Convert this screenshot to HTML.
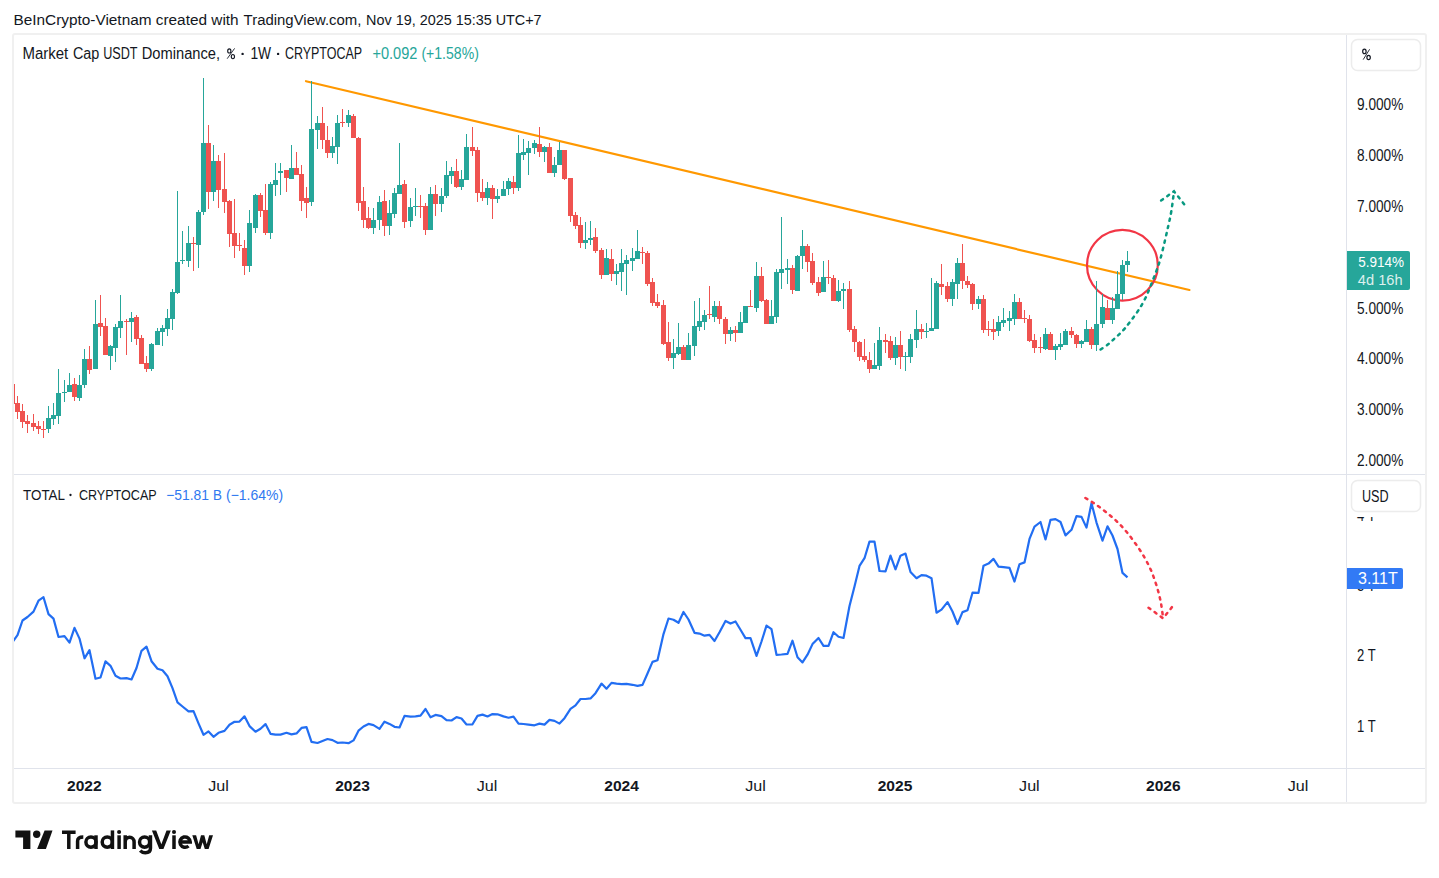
<!DOCTYPE html>
<html><head><meta charset="utf-8"><title>TradingView chart</title>
<style>html,body{margin:0;padding:0;background:#fff;width:1439px;height:878px;overflow:hidden;font-family:"Liberation Sans",sans-serif}svg{display:block}</style>
</head><body>
<svg width="1439" height="878" viewBox="0 0 1439 878" font-family="Liberation Sans, sans-serif"><text x="13.5" y="25" font-size="15.2" fill="#131722" textLength="225.1" lengthAdjust="spacingAndGlyphs">BeInCrypto-Vietnam created with</text>
<text x="243.6" y="25" font-size="15.2" fill="#131722" textLength="117.8" lengthAdjust="spacingAndGlyphs">TradingView.com,</text>
<text x="366.1" y="25" font-size="15.2" fill="#131722" textLength="175.5" lengthAdjust="spacingAndGlyphs">Nov 19, 2025 15:35 UTC+7</text>
<rect x="12" y="34" width="1414" height="768" fill="#fff" stroke="none"/>
<defs><clipPath id="cp1"><rect x="13" y="35" width="1333" height="439"/></clipPath><clipPath id="cp2"><rect x="13" y="475" width="1333" height="293"/></clipPath></defs>
<line x1="306.0" y1="81.2" x2="1189.4" y2="290.0" stroke="#ff9800" stroke-width="2.2" stroke-linecap="round"/>
<circle cx="1122.4" cy="265.3" r="35.4" fill="none" stroke="#f23645" stroke-width="2.2"/>
<g clip-path="url(#cp1)" shape-rendering="crispEdges">
<rect x="12" y="384" width="1" height="20" fill="#ef5350"/>
<rect x="10" y="384" width="5" height="20" fill="#ef5350"/>
<rect x="17" y="396" width="1" height="23" fill="#ef5350"/>
<rect x="15" y="403" width="5" height="9" fill="#ef5350"/>
<rect x="22" y="404" width="1" height="24" fill="#ef5350"/>
<rect x="20" y="411" width="5" height="11" fill="#ef5350"/>
<rect x="27" y="415" width="1" height="18" fill="#ef5350"/>
<rect x="25" y="421" width="5" height="3" fill="#ef5350"/>
<rect x="33" y="414" width="1" height="17" fill="#ef5350"/>
<rect x="31" y="423" width="5" height="4" fill="#ef5350"/>
<rect x="38" y="421" width="1" height="13" fill="#ef5350"/>
<rect x="36" y="426" width="5" height="3" fill="#ef5350"/>
<rect x="43" y="421" width="1" height="17" fill="#ef5350"/>
<rect x="41" y="429" width="5" height="1" fill="#ef5350"/>
<rect x="48" y="406" width="1" height="27" fill="#26a69a"/>
<rect x="46" y="418" width="5" height="11" fill="#26a69a"/>
<rect x="53" y="403" width="1" height="22" fill="#26a69a"/>
<rect x="51" y="415" width="5" height="4" fill="#26a69a"/>
<rect x="58" y="369" width="1" height="55" fill="#26a69a"/>
<rect x="56" y="393" width="5" height="23" fill="#26a69a"/>
<rect x="64" y="380" width="1" height="22" fill="#26a69a"/>
<rect x="62" y="392" width="5" height="1" fill="#26a69a"/>
<rect x="69" y="373" width="1" height="19" fill="#26a69a"/>
<rect x="67" y="385" width="5" height="7" fill="#26a69a"/>
<rect x="74" y="378" width="1" height="23" fill="#ef5350"/>
<rect x="72" y="384" width="5" height="13" fill="#ef5350"/>
<rect x="79" y="375" width="1" height="26" fill="#26a69a"/>
<rect x="77" y="385" width="5" height="13" fill="#26a69a"/>
<rect x="84" y="349" width="1" height="39" fill="#26a69a"/>
<rect x="82" y="359" width="5" height="26" fill="#26a69a"/>
<rect x="89" y="346" width="1" height="28" fill="#ef5350"/>
<rect x="87" y="359" width="5" height="11" fill="#ef5350"/>
<rect x="95" y="300" width="1" height="69" fill="#26a69a"/>
<rect x="93" y="324" width="5" height="45" fill="#26a69a"/>
<rect x="100" y="295" width="1" height="41" fill="#ef5350"/>
<rect x="98" y="323" width="5" height="4" fill="#ef5350"/>
<rect x="105" y="318" width="1" height="37" fill="#ef5350"/>
<rect x="103" y="326" width="5" height="29" fill="#ef5350"/>
<rect x="110" y="345" width="1" height="25" fill="#26a69a"/>
<rect x="108" y="346" width="5" height="10" fill="#26a69a"/>
<rect x="115" y="324" width="1" height="38" fill="#26a69a"/>
<rect x="113" y="327" width="5" height="21" fill="#26a69a"/>
<rect x="120" y="295" width="1" height="43" fill="#26a69a"/>
<rect x="118" y="321" width="5" height="7" fill="#26a69a"/>
<rect x="126" y="319" width="1" height="36" fill="#ef5350"/>
<rect x="124" y="321" width="5" height="1" fill="#ef5350"/>
<rect x="131" y="312" width="1" height="30" fill="#26a69a"/>
<rect x="129" y="318" width="5" height="4" fill="#26a69a"/>
<rect x="136" y="315" width="1" height="30" fill="#ef5350"/>
<rect x="134" y="317" width="5" height="22" fill="#ef5350"/>
<rect x="141" y="335" width="1" height="29" fill="#ef5350"/>
<rect x="139" y="338" width="5" height="26" fill="#ef5350"/>
<rect x="146" y="356" width="1" height="16" fill="#ef5350"/>
<rect x="144" y="363" width="5" height="6" fill="#ef5350"/>
<rect x="151" y="343" width="1" height="28" fill="#26a69a"/>
<rect x="149" y="344" width="5" height="25" fill="#26a69a"/>
<rect x="157" y="328" width="1" height="17" fill="#26a69a"/>
<rect x="155" y="331" width="5" height="14" fill="#26a69a"/>
<rect x="162" y="325" width="1" height="21" fill="#26a69a"/>
<rect x="160" y="328" width="5" height="4" fill="#26a69a"/>
<rect x="167" y="309" width="1" height="27" fill="#26a69a"/>
<rect x="165" y="318" width="5" height="11" fill="#26a69a"/>
<rect x="172" y="289" width="1" height="41" fill="#26a69a"/>
<rect x="170" y="292" width="5" height="27" fill="#26a69a"/>
<rect x="177" y="191" width="1" height="103" fill="#26a69a"/>
<rect x="175" y="262" width="5" height="31" fill="#26a69a"/>
<rect x="182" y="231" width="1" height="33" fill="#26a69a"/>
<rect x="180" y="260" width="5" height="1" fill="#26a69a"/>
<rect x="188" y="226" width="1" height="41" fill="#26a69a"/>
<rect x="186" y="243" width="5" height="18" fill="#26a69a"/>
<rect x="193" y="237" width="1" height="34" fill="#ef5350"/>
<rect x="191" y="243" width="5" height="1" fill="#ef5350"/>
<rect x="198" y="210" width="1" height="58" fill="#26a69a"/>
<rect x="196" y="212" width="5" height="33" fill="#26a69a"/>
<rect x="203" y="78" width="1" height="137" fill="#26a69a"/>
<rect x="201" y="143" width="5" height="69" fill="#26a69a"/>
<rect x="208" y="125" width="1" height="84" fill="#ef5350"/>
<rect x="206" y="143" width="5" height="49" fill="#ef5350"/>
<rect x="213" y="145" width="1" height="56" fill="#26a69a"/>
<rect x="211" y="161" width="5" height="31" fill="#26a69a"/>
<rect x="218" y="155" width="1" height="53" fill="#ef5350"/>
<rect x="216" y="161" width="5" height="29" fill="#ef5350"/>
<rect x="224" y="153" width="1" height="60" fill="#ef5350"/>
<rect x="222" y="189" width="5" height="13" fill="#ef5350"/>
<rect x="229" y="200" width="1" height="47" fill="#ef5350"/>
<rect x="227" y="201" width="5" height="33" fill="#ef5350"/>
<rect x="234" y="199" width="1" height="59" fill="#ef5350"/>
<rect x="232" y="233" width="5" height="13" fill="#ef5350"/>
<rect x="239" y="233" width="1" height="18" fill="#ef5350"/>
<rect x="237" y="245" width="5" height="1" fill="#ef5350"/>
<rect x="244" y="240" width="1" height="35" fill="#ef5350"/>
<rect x="242" y="248" width="5" height="18" fill="#ef5350"/>
<rect x="249" y="210" width="1" height="62" fill="#26a69a"/>
<rect x="247" y="223" width="5" height="43" fill="#26a69a"/>
<rect x="255" y="194" width="1" height="39" fill="#26a69a"/>
<rect x="253" y="195" width="5" height="33" fill="#26a69a"/>
<rect x="260" y="193" width="1" height="24" fill="#ef5350"/>
<rect x="258" y="195" width="5" height="16" fill="#ef5350"/>
<rect x="265" y="184" width="1" height="51" fill="#ef5350"/>
<rect x="263" y="210" width="5" height="23" fill="#ef5350"/>
<rect x="270" y="182" width="1" height="57" fill="#26a69a"/>
<rect x="268" y="184" width="5" height="49" fill="#26a69a"/>
<rect x="275" y="163" width="1" height="33" fill="#26a69a"/>
<rect x="273" y="180" width="5" height="5" fill="#26a69a"/>
<rect x="280" y="163" width="1" height="32" fill="#26a69a"/>
<rect x="278" y="171" width="5" height="2" fill="#26a69a"/>
<rect x="286" y="170" width="1" height="22" fill="#ef5350"/>
<rect x="284" y="170" width="5" height="8" fill="#ef5350"/>
<rect x="291" y="145" width="1" height="34" fill="#26a69a"/>
<rect x="289" y="168" width="5" height="11" fill="#26a69a"/>
<rect x="296" y="152" width="1" height="23" fill="#ef5350"/>
<rect x="294" y="168" width="5" height="7" fill="#ef5350"/>
<rect x="301" y="165" width="1" height="46" fill="#ef5350"/>
<rect x="299" y="174" width="5" height="27" fill="#ef5350"/>
<rect x="306" y="187" width="1" height="31" fill="#ef5350"/>
<rect x="304" y="198" width="5" height="5" fill="#ef5350"/>
<rect x="311" y="81" width="1" height="125" fill="#26a69a"/>
<rect x="309" y="129" width="5" height="73" fill="#26a69a"/>
<rect x="317" y="116" width="1" height="33" fill="#26a69a"/>
<rect x="315" y="123" width="5" height="7" fill="#26a69a"/>
<rect x="322" y="107" width="1" height="42" fill="#ef5350"/>
<rect x="320" y="123" width="5" height="17" fill="#ef5350"/>
<rect x="327" y="126" width="1" height="32" fill="#ef5350"/>
<rect x="325" y="140" width="5" height="13" fill="#ef5350"/>
<rect x="332" y="137" width="1" height="21" fill="#26a69a"/>
<rect x="330" y="146" width="5" height="7" fill="#26a69a"/>
<rect x="337" y="115" width="1" height="49" fill="#26a69a"/>
<rect x="335" y="123" width="5" height="24" fill="#26a69a"/>
<rect x="342" y="109" width="1" height="18" fill="#ef5350"/>
<rect x="340" y="122" width="5" height="1" fill="#ef5350"/>
<rect x="348" y="110" width="1" height="17" fill="#26a69a"/>
<rect x="346" y="115" width="5" height="8" fill="#26a69a"/>
<rect x="353" y="114" width="1" height="24" fill="#ef5350"/>
<rect x="351" y="116" width="5" height="22" fill="#ef5350"/>
<rect x="358" y="137" width="1" height="74" fill="#ef5350"/>
<rect x="356" y="138" width="5" height="65" fill="#ef5350"/>
<rect x="363" y="187" width="1" height="41" fill="#ef5350"/>
<rect x="361" y="201" width="5" height="19" fill="#ef5350"/>
<rect x="368" y="207" width="1" height="22" fill="#ef5350"/>
<rect x="366" y="218" width="5" height="10" fill="#ef5350"/>
<rect x="373" y="208" width="1" height="26" fill="#26a69a"/>
<rect x="371" y="220" width="5" height="8" fill="#26a69a"/>
<rect x="379" y="196" width="1" height="34" fill="#26a69a"/>
<rect x="377" y="202" width="5" height="18" fill="#26a69a"/>
<rect x="384" y="190" width="1" height="46" fill="#ef5350"/>
<rect x="382" y="201" width="5" height="25" fill="#ef5350"/>
<rect x="389" y="200" width="1" height="35" fill="#26a69a"/>
<rect x="387" y="213" width="5" height="13" fill="#26a69a"/>
<rect x="394" y="188" width="1" height="30" fill="#26a69a"/>
<rect x="392" y="193" width="5" height="21" fill="#26a69a"/>
<rect x="399" y="143" width="1" height="51" fill="#26a69a"/>
<rect x="397" y="185" width="5" height="9" fill="#26a69a"/>
<rect x="404" y="180" width="1" height="48" fill="#ef5350"/>
<rect x="402" y="184" width="5" height="38" fill="#ef5350"/>
<rect x="410" y="198" width="1" height="29" fill="#26a69a"/>
<rect x="408" y="207" width="5" height="14" fill="#26a69a"/>
<rect x="415" y="188" width="1" height="28" fill="#26a69a"/>
<rect x="413" y="206" width="5" height="1" fill="#26a69a"/>
<rect x="420" y="195" width="1" height="23" fill="#ef5350"/>
<rect x="418" y="206" width="5" height="1" fill="#ef5350"/>
<rect x="425" y="203" width="1" height="32" fill="#ef5350"/>
<rect x="423" y="206" width="5" height="24" fill="#ef5350"/>
<rect x="430" y="187" width="1" height="43" fill="#26a69a"/>
<rect x="428" y="194" width="5" height="36" fill="#26a69a"/>
<rect x="435" y="185" width="1" height="31" fill="#ef5350"/>
<rect x="433" y="194" width="5" height="10" fill="#ef5350"/>
<rect x="441" y="188" width="1" height="24" fill="#26a69a"/>
<rect x="439" y="196" width="5" height="8" fill="#26a69a"/>
<rect x="446" y="161" width="1" height="37" fill="#26a69a"/>
<rect x="444" y="175" width="5" height="21" fill="#26a69a"/>
<rect x="451" y="167" width="1" height="17" fill="#26a69a"/>
<rect x="449" y="171" width="5" height="5" fill="#26a69a"/>
<rect x="456" y="159" width="1" height="29" fill="#ef5350"/>
<rect x="454" y="171" width="5" height="16" fill="#ef5350"/>
<rect x="461" y="170" width="1" height="20" fill="#26a69a"/>
<rect x="459" y="179" width="5" height="8" fill="#26a69a"/>
<rect x="466" y="134" width="1" height="46" fill="#26a69a"/>
<rect x="464" y="147" width="5" height="33" fill="#26a69a"/>
<rect x="472" y="127" width="1" height="29" fill="#ef5350"/>
<rect x="470" y="147" width="5" height="4" fill="#ef5350"/>
<rect x="477" y="147" width="1" height="55" fill="#ef5350"/>
<rect x="475" y="150" width="5" height="43" fill="#ef5350"/>
<rect x="482" y="179" width="1" height="22" fill="#ef5350"/>
<rect x="480" y="192" width="5" height="6" fill="#ef5350"/>
<rect x="487" y="182" width="1" height="23" fill="#26a69a"/>
<rect x="485" y="188" width="5" height="10" fill="#26a69a"/>
<rect x="492" y="185" width="1" height="34" fill="#ef5350"/>
<rect x="490" y="188" width="5" height="11" fill="#ef5350"/>
<rect x="497" y="189" width="1" height="14" fill="#26a69a"/>
<rect x="495" y="196" width="5" height="3" fill="#26a69a"/>
<rect x="503" y="181" width="1" height="15" fill="#26a69a"/>
<rect x="501" y="189" width="5" height="7" fill="#26a69a"/>
<rect x="508" y="178" width="1" height="17" fill="#26a69a"/>
<rect x="506" y="181" width="5" height="8" fill="#26a69a"/>
<rect x="513" y="176" width="1" height="18" fill="#ef5350"/>
<rect x="511" y="182" width="5" height="6" fill="#ef5350"/>
<rect x="518" y="135" width="1" height="56" fill="#26a69a"/>
<rect x="516" y="153" width="5" height="35" fill="#26a69a"/>
<rect x="523" y="139" width="1" height="21" fill="#26a69a"/>
<rect x="521" y="152" width="5" height="3" fill="#26a69a"/>
<rect x="528" y="141" width="1" height="34" fill="#26a69a"/>
<rect x="526" y="148" width="5" height="5" fill="#26a69a"/>
<rect x="534" y="140" width="1" height="14" fill="#26a69a"/>
<rect x="532" y="143" width="5" height="5" fill="#26a69a"/>
<rect x="539" y="127" width="1" height="30" fill="#ef5350"/>
<rect x="537" y="144" width="5" height="8" fill="#ef5350"/>
<rect x="544" y="146" width="1" height="16" fill="#26a69a"/>
<rect x="542" y="147" width="5" height="5" fill="#26a69a"/>
<rect x="549" y="143" width="1" height="30" fill="#ef5350"/>
<rect x="547" y="147" width="5" height="26" fill="#ef5350"/>
<rect x="554" y="157" width="1" height="20" fill="#26a69a"/>
<rect x="552" y="165" width="5" height="8" fill="#26a69a"/>
<rect x="559" y="142" width="1" height="23" fill="#26a69a"/>
<rect x="557" y="150" width="5" height="15" fill="#26a69a"/>
<rect x="564" y="150" width="1" height="30" fill="#ef5350"/>
<rect x="562" y="150" width="5" height="29" fill="#ef5350"/>
<rect x="570" y="178" width="1" height="44" fill="#ef5350"/>
<rect x="568" y="178" width="5" height="38" fill="#ef5350"/>
<rect x="575" y="212" width="1" height="17" fill="#ef5350"/>
<rect x="573" y="215" width="5" height="11" fill="#ef5350"/>
<rect x="580" y="217" width="1" height="31" fill="#ef5350"/>
<rect x="578" y="225" width="5" height="18" fill="#ef5350"/>
<rect x="585" y="222" width="1" height="27" fill="#26a69a"/>
<rect x="583" y="240" width="5" height="3" fill="#26a69a"/>
<rect x="590" y="221" width="1" height="24" fill="#26a69a"/>
<rect x="588" y="238" width="5" height="2" fill="#26a69a"/>
<rect x="595" y="228" width="1" height="25" fill="#ef5350"/>
<rect x="593" y="237" width="5" height="14" fill="#ef5350"/>
<rect x="601" y="248" width="1" height="31" fill="#ef5350"/>
<rect x="599" y="250" width="5" height="25" fill="#ef5350"/>
<rect x="606" y="249" width="1" height="26" fill="#26a69a"/>
<rect x="604" y="258" width="5" height="17" fill="#26a69a"/>
<rect x="611" y="249" width="1" height="32" fill="#ef5350"/>
<rect x="609" y="259" width="5" height="15" fill="#ef5350"/>
<rect x="616" y="264" width="1" height="21" fill="#26a69a"/>
<rect x="614" y="271" width="5" height="3" fill="#26a69a"/>
<rect x="621" y="249" width="1" height="42" fill="#26a69a"/>
<rect x="619" y="263" width="5" height="9" fill="#26a69a"/>
<rect x="626" y="255" width="1" height="40" fill="#26a69a"/>
<rect x="624" y="260" width="5" height="4" fill="#26a69a"/>
<rect x="632" y="248" width="1" height="23" fill="#26a69a"/>
<rect x="630" y="258" width="5" height="3" fill="#26a69a"/>
<rect x="637" y="230" width="1" height="29" fill="#26a69a"/>
<rect x="635" y="251" width="5" height="8" fill="#26a69a"/>
<rect x="642" y="247" width="1" height="17" fill="#ef5350"/>
<rect x="640" y="252" width="5" height="1" fill="#ef5350"/>
<rect x="647" y="251" width="1" height="35" fill="#ef5350"/>
<rect x="645" y="253" width="5" height="31" fill="#ef5350"/>
<rect x="652" y="278" width="1" height="28" fill="#ef5350"/>
<rect x="650" y="282" width="5" height="21" fill="#ef5350"/>
<rect x="657" y="294" width="1" height="14" fill="#ef5350"/>
<rect x="655" y="302" width="5" height="4" fill="#ef5350"/>
<rect x="663" y="300" width="1" height="45" fill="#ef5350"/>
<rect x="661" y="305" width="5" height="39" fill="#ef5350"/>
<rect x="668" y="322" width="1" height="39" fill="#ef5350"/>
<rect x="666" y="342" width="5" height="16" fill="#ef5350"/>
<rect x="673" y="339" width="1" height="30" fill="#26a69a"/>
<rect x="671" y="353" width="5" height="5" fill="#26a69a"/>
<rect x="678" y="323" width="1" height="32" fill="#26a69a"/>
<rect x="676" y="347" width="5" height="7" fill="#26a69a"/>
<rect x="683" y="345" width="1" height="15" fill="#ef5350"/>
<rect x="681" y="347" width="5" height="13" fill="#ef5350"/>
<rect x="688" y="333" width="1" height="27" fill="#26a69a"/>
<rect x="686" y="345" width="5" height="15" fill="#26a69a"/>
<rect x="694" y="301" width="1" height="55" fill="#26a69a"/>
<rect x="692" y="326" width="5" height="20" fill="#26a69a"/>
<rect x="699" y="298" width="1" height="33" fill="#26a69a"/>
<rect x="697" y="321" width="5" height="6" fill="#26a69a"/>
<rect x="704" y="310" width="1" height="20" fill="#26a69a"/>
<rect x="702" y="315" width="5" height="7" fill="#26a69a"/>
<rect x="709" y="286" width="1" height="33" fill="#ef5350"/>
<rect x="707" y="314" width="5" height="1" fill="#ef5350"/>
<rect x="714" y="301" width="1" height="21" fill="#26a69a"/>
<rect x="712" y="306" width="5" height="11" fill="#26a69a"/>
<rect x="719" y="301" width="1" height="23" fill="#ef5350"/>
<rect x="717" y="306" width="5" height="13" fill="#ef5350"/>
<rect x="725" y="317" width="1" height="27" fill="#ef5350"/>
<rect x="723" y="319" width="5" height="15" fill="#ef5350"/>
<rect x="730" y="327" width="1" height="14" fill="#26a69a"/>
<rect x="728" y="330" width="5" height="4" fill="#26a69a"/>
<rect x="735" y="326" width="1" height="16" fill="#ef5350"/>
<rect x="733" y="330" width="5" height="3" fill="#ef5350"/>
<rect x="740" y="312" width="1" height="21" fill="#26a69a"/>
<rect x="738" y="322" width="5" height="11" fill="#26a69a"/>
<rect x="745" y="306" width="1" height="17" fill="#26a69a"/>
<rect x="743" y="306" width="5" height="17" fill="#26a69a"/>
<rect x="750" y="290" width="1" height="17" fill="#ef5350"/>
<rect x="748" y="306" width="5" height="1" fill="#ef5350"/>
<rect x="756" y="262" width="1" height="50" fill="#26a69a"/>
<rect x="754" y="276" width="5" height="32" fill="#26a69a"/>
<rect x="761" y="267" width="1" height="35" fill="#ef5350"/>
<rect x="759" y="276" width="5" height="25" fill="#ef5350"/>
<rect x="766" y="299" width="1" height="25" fill="#ef5350"/>
<rect x="764" y="300" width="5" height="24" fill="#ef5350"/>
<rect x="771" y="300" width="1" height="24" fill="#26a69a"/>
<rect x="769" y="316" width="5" height="8" fill="#26a69a"/>
<rect x="776" y="269" width="1" height="54" fill="#26a69a"/>
<rect x="774" y="272" width="5" height="45" fill="#26a69a"/>
<rect x="781" y="217" width="1" height="72" fill="#26a69a"/>
<rect x="779" y="269" width="5" height="4" fill="#26a69a"/>
<rect x="787" y="259" width="1" height="25" fill="#26a69a"/>
<rect x="785" y="268" width="5" height="2" fill="#26a69a"/>
<rect x="792" y="265" width="1" height="29" fill="#ef5350"/>
<rect x="790" y="268" width="5" height="22" fill="#ef5350"/>
<rect x="797" y="255" width="1" height="36" fill="#26a69a"/>
<rect x="795" y="256" width="5" height="35" fill="#26a69a"/>
<rect x="802" y="230" width="1" height="39" fill="#26a69a"/>
<rect x="800" y="246" width="5" height="10" fill="#26a69a"/>
<rect x="807" y="244" width="1" height="28" fill="#ef5350"/>
<rect x="805" y="246" width="5" height="16" fill="#ef5350"/>
<rect x="812" y="253" width="1" height="32" fill="#ef5350"/>
<rect x="810" y="261" width="5" height="22" fill="#ef5350"/>
<rect x="818" y="277" width="1" height="19" fill="#ef5350"/>
<rect x="816" y="282" width="5" height="11" fill="#ef5350"/>
<rect x="823" y="261" width="1" height="31" fill="#26a69a"/>
<rect x="821" y="277" width="5" height="15" fill="#26a69a"/>
<rect x="828" y="260" width="1" height="24" fill="#ef5350"/>
<rect x="826" y="277" width="5" height="1" fill="#ef5350"/>
<rect x="833" y="275" width="1" height="26" fill="#ef5350"/>
<rect x="831" y="278" width="5" height="23" fill="#ef5350"/>
<rect x="838" y="280" width="1" height="22" fill="#26a69a"/>
<rect x="836" y="291" width="5" height="10" fill="#26a69a"/>
<rect x="843" y="283" width="1" height="26" fill="#26a69a"/>
<rect x="841" y="289" width="5" height="2" fill="#26a69a"/>
<rect x="849" y="281" width="1" height="51" fill="#ef5350"/>
<rect x="847" y="289" width="5" height="41" fill="#ef5350"/>
<rect x="854" y="326" width="1" height="26" fill="#ef5350"/>
<rect x="852" y="329" width="5" height="13" fill="#ef5350"/>
<rect x="859" y="341" width="1" height="20" fill="#ef5350"/>
<rect x="857" y="342" width="5" height="15" fill="#ef5350"/>
<rect x="864" y="339" width="1" height="23" fill="#ef5350"/>
<rect x="862" y="356" width="5" height="4" fill="#ef5350"/>
<rect x="869" y="352" width="1" height="21" fill="#ef5350"/>
<rect x="867" y="360" width="5" height="9" fill="#ef5350"/>
<rect x="874" y="343" width="1" height="26" fill="#26a69a"/>
<rect x="872" y="365" width="5" height="4" fill="#26a69a"/>
<rect x="879" y="327" width="1" height="43" fill="#26a69a"/>
<rect x="877" y="340" width="5" height="26" fill="#26a69a"/>
<rect x="885" y="334" width="1" height="19" fill="#ef5350"/>
<rect x="883" y="340" width="5" height="2" fill="#ef5350"/>
<rect x="890" y="336" width="1" height="24" fill="#ef5350"/>
<rect x="888" y="341" width="5" height="17" fill="#ef5350"/>
<rect x="895" y="337" width="1" height="28" fill="#26a69a"/>
<rect x="893" y="345" width="5" height="13" fill="#26a69a"/>
<rect x="900" y="331" width="1" height="38" fill="#ef5350"/>
<rect x="898" y="345" width="5" height="12" fill="#ef5350"/>
<rect x="905" y="352" width="1" height="19" fill="#26a69a"/>
<rect x="903" y="356" width="5" height="1" fill="#26a69a"/>
<rect x="910" y="334" width="1" height="29" fill="#26a69a"/>
<rect x="908" y="339" width="5" height="18" fill="#26a69a"/>
<rect x="916" y="310" width="1" height="38" fill="#26a69a"/>
<rect x="914" y="329" width="5" height="11" fill="#26a69a"/>
<rect x="921" y="324" width="1" height="15" fill="#ef5350"/>
<rect x="919" y="329" width="5" height="3" fill="#ef5350"/>
<rect x="926" y="323" width="1" height="15" fill="#26a69a"/>
<rect x="924" y="331" width="5" height="1" fill="#26a69a"/>
<rect x="931" y="278" width="1" height="53" fill="#26a69a"/>
<rect x="929" y="328" width="5" height="3" fill="#26a69a"/>
<rect x="936" y="281" width="1" height="48" fill="#26a69a"/>
<rect x="934" y="283" width="5" height="46" fill="#26a69a"/>
<rect x="941" y="264" width="1" height="31" fill="#ef5350"/>
<rect x="939" y="284" width="5" height="3" fill="#ef5350"/>
<rect x="947" y="282" width="1" height="20" fill="#ef5350"/>
<rect x="945" y="286" width="5" height="13" fill="#ef5350"/>
<rect x="952" y="279" width="1" height="27" fill="#26a69a"/>
<rect x="950" y="282" width="5" height="17" fill="#26a69a"/>
<rect x="957" y="258" width="1" height="41" fill="#26a69a"/>
<rect x="955" y="263" width="5" height="21" fill="#26a69a"/>
<rect x="962" y="244" width="1" height="45" fill="#ef5350"/>
<rect x="960" y="263" width="5" height="18" fill="#ef5350"/>
<rect x="967" y="276" width="1" height="12" fill="#ef5350"/>
<rect x="965" y="281" width="5" height="4" fill="#ef5350"/>
<rect x="972" y="283" width="1" height="27" fill="#ef5350"/>
<rect x="970" y="284" width="5" height="20" fill="#ef5350"/>
<rect x="978" y="296" width="1" height="13" fill="#26a69a"/>
<rect x="976" y="299" width="5" height="5" fill="#26a69a"/>
<rect x="983" y="295" width="1" height="38" fill="#ef5350"/>
<rect x="981" y="299" width="5" height="31" fill="#ef5350"/>
<rect x="988" y="321" width="1" height="15" fill="#ef5350"/>
<rect x="986" y="329" width="5" height="1" fill="#ef5350"/>
<rect x="993" y="319" width="1" height="21" fill="#ef5350"/>
<rect x="991" y="329" width="5" height="3" fill="#ef5350"/>
<rect x="998" y="316" width="1" height="20" fill="#26a69a"/>
<rect x="996" y="322" width="5" height="9" fill="#26a69a"/>
<rect x="1003" y="308" width="1" height="19" fill="#26a69a"/>
<rect x="1001" y="320" width="5" height="3" fill="#26a69a"/>
<rect x="1009" y="311" width="1" height="20" fill="#26a69a"/>
<rect x="1007" y="318" width="5" height="3" fill="#26a69a"/>
<rect x="1014" y="294" width="1" height="31" fill="#26a69a"/>
<rect x="1012" y="302" width="5" height="17" fill="#26a69a"/>
<rect x="1019" y="298" width="1" height="21" fill="#ef5350"/>
<rect x="1017" y="302" width="5" height="17" fill="#ef5350"/>
<rect x="1024" y="310" width="1" height="13" fill="#ef5350"/>
<rect x="1022" y="318" width="5" height="1" fill="#ef5350"/>
<rect x="1029" y="315" width="1" height="27" fill="#ef5350"/>
<rect x="1027" y="319" width="5" height="22" fill="#ef5350"/>
<rect x="1034" y="334" width="1" height="19" fill="#ef5350"/>
<rect x="1032" y="340" width="5" height="8" fill="#ef5350"/>
<rect x="1040" y="337" width="1" height="16" fill="#ef5350"/>
<rect x="1038" y="347" width="5" height="1" fill="#ef5350"/>
<rect x="1045" y="328" width="1" height="22" fill="#26a69a"/>
<rect x="1043" y="334" width="5" height="15" fill="#26a69a"/>
<rect x="1050" y="332" width="1" height="18" fill="#ef5350"/>
<rect x="1048" y="334" width="5" height="16" fill="#ef5350"/>
<rect x="1055" y="344" width="1" height="16" fill="#26a69a"/>
<rect x="1053" y="346" width="5" height="4" fill="#26a69a"/>
<rect x="1060" y="333" width="1" height="17" fill="#26a69a"/>
<rect x="1058" y="344" width="5" height="3" fill="#26a69a"/>
<rect x="1065" y="329" width="1" height="16" fill="#26a69a"/>
<rect x="1063" y="331" width="5" height="14" fill="#26a69a"/>
<rect x="1071" y="327" width="1" height="11" fill="#ef5350"/>
<rect x="1069" y="331" width="5" height="4" fill="#ef5350"/>
<rect x="1076" y="334" width="1" height="14" fill="#ef5350"/>
<rect x="1074" y="335" width="5" height="9" fill="#ef5350"/>
<rect x="1081" y="340" width="1" height="8" fill="#26a69a"/>
<rect x="1079" y="341" width="5" height="3" fill="#26a69a"/>
<rect x="1086" y="320" width="1" height="22" fill="#26a69a"/>
<rect x="1084" y="329" width="5" height="13" fill="#26a69a"/>
<rect x="1091" y="327" width="1" height="22" fill="#ef5350"/>
<rect x="1089" y="329" width="5" height="16" fill="#ef5350"/>
<rect x="1096" y="281" width="1" height="70" fill="#26a69a"/>
<rect x="1094" y="324" width="5" height="21" fill="#26a69a"/>
<rect x="1102" y="294" width="1" height="34" fill="#26a69a"/>
<rect x="1100" y="307" width="5" height="17" fill="#26a69a"/>
<rect x="1107" y="300" width="1" height="20" fill="#ef5350"/>
<rect x="1105" y="308" width="5" height="12" fill="#ef5350"/>
<rect x="1112" y="297" width="1" height="27" fill="#26a69a"/>
<rect x="1110" y="308" width="5" height="12" fill="#26a69a"/>
<rect x="1117" y="271" width="1" height="38" fill="#26a69a"/>
<rect x="1115" y="294" width="5" height="15" fill="#26a69a"/>
<rect x="1122" y="260" width="1" height="40" fill="#26a69a"/>
<rect x="1120" y="265" width="5" height="29" fill="#26a69a"/>
<rect x="1127" y="251" width="1" height="21" fill="#26a69a"/>
<rect x="1125" y="261" width="5" height="4" fill="#26a69a"/>
</g>
<path d="M1100.6,349.5 C1101.9,348.6 1106.2,345.8 1108.5,344.0 C1110.8,342.2 1112.3,340.5 1114.2,338.8 C1116.1,337.1 1117.9,335.5 1119.7,333.8 C1121.5,332.1 1122.9,330.8 1124.8,328.5 C1126.7,326.2 1128.9,323.4 1131.2,320.3 C1133.5,317.2 1136.2,313.8 1138.6,310.0 C1141.0,306.2 1143.5,302.1 1145.6,297.8 C1147.7,293.5 1149.5,288.6 1151.3,284.1 C1153.1,279.6 1154.9,275.3 1156.4,271.0 C1157.9,266.7 1159.1,263.6 1160.5,258.5 C1161.9,253.4 1163.7,245.9 1165.0,240.3 C1166.3,234.7 1167.4,229.9 1168.5,225.0 C1169.6,220.1 1170.5,216.4 1171.4,210.8 C1172.3,205.2 1173.6,194.6 1174.0,191.3" fill="none" stroke="#089981" stroke-width="2.5" stroke-dasharray="2.3,5.2" stroke-linecap="round"/>
<path d="M1161.1,200.5 L1174,191.3 L1185.7,206.2" fill="none" stroke="#089981" stroke-width="2.5" stroke-dasharray="2.3,5.2" stroke-linecap="round"/>
<g clip-path="url(#cp2)"><polyline points="12.5,642.0 17.5,635.1 22.5,620.5 27.5,617.0 33.5,611.6 38.5,600.7 43.5,597.2 48.5,614.1 53.5,618.6 58.5,637.0 64.5,636.1 69.5,642.6 74.5,627.9 79.5,638.6 84.5,658.3 89.5,650.2 95.5,678.7 100.5,677.5 105.5,661.4 110.5,665.8 115.5,675.8 120.5,678.5 126.5,678.1 131.5,679.5 136.5,668.0 141.5,650.8 146.5,646.7 151.5,661.2 157.5,668.7 162.5,670.3 167.5,676.2 172.5,688.1 177.5,702.4 182.5,706.5 188.5,711.3 193.5,711.2 198.5,723.3 203.5,734.8 208.5,731.4 213.5,736.8 218.5,732.8 224.5,730.9 229.5,724.8 234.5,721.8 239.5,721.6 244.5,716.3 249.5,726.1 255.5,731.7 260.5,728.8 265.5,724.1 270.5,733.8 275.5,734.6 280.5,734.6 286.5,732.8 291.5,734.4 296.5,733.4 301.5,727.9 306.5,727.1 311.5,741.8 317.5,743.0 322.5,741.0 327.5,739.0 332.5,740.1 337.5,742.8 342.5,742.5 348.5,743.2 353.5,740.4 358.5,730.7 363.5,726.5 368.5,723.9 373.5,725.1 379.5,728.9 384.5,721.7 389.5,723.9 394.5,726.8 399.5,727.5 404.5,715.9 410.5,716.7 415.5,716.3 420.5,715.7 425.5,709.0 430.5,717.3 435.5,714.9 441.5,716.1 446.5,720.1 451.5,720.5 456.5,717.1 461.5,718.5 466.5,724.5 472.5,724.3 477.5,715.9 482.5,714.6 487.5,716.5 492.5,714.1 497.5,714.3 503.5,716.4 508.5,717.7 513.5,716.6 518.5,723.6 523.5,724.0 528.5,724.6 534.5,725.3 539.5,723.6 544.5,724.6 549.5,719.9 554.5,720.9 559.5,723.6 564.5,718.2 570.5,708.9 575.5,705.4 580.5,699.0 585.5,699.0 590.5,698.4 595.5,693.2 601.5,683.6 606.5,688.7 611.5,682.9 616.5,683.6 621.5,684.1 626.5,683.9 632.5,684.8 637.5,685.9 642.5,684.9 647.5,673.5 652.5,661.9 657.5,660.2 663.5,634.1 668.5,618.5 673.5,619.7 678.5,622.8 683.5,612.0 688.5,619.5 694.5,632.8 699.5,633.6 704.5,635.7 709.5,634.9 714.5,641.0 719.5,632.3 725.5,621.0 730.5,623.6 735.5,621.5 740.5,629.7 745.5,638.1 750.5,638.1 756.5,655.9 761.5,641.5 766.5,625.6 771.5,629.2 776.5,654.8 781.5,654.5 787.5,653.8 792.5,640.7 797.5,657.3 802.5,662.4 807.5,654.7 812.5,644.1 818.5,638.0 823.5,645.8 828.5,645.8 833.5,632.2 838.5,636.8 843.5,638.0 849.5,606.0 854.5,586.4 859.5,565.9 864.5,558.2 869.5,541.6 874.5,541.6 879.5,571.0 885.5,571.3 890.5,555.6 895.5,569.3 900.5,555.7 905.5,553.6 910.5,572.0 916.5,578.2 921.5,575.1 926.5,575.7 931.5,578.2 936.5,612.7 941.5,609.6 947.5,602.1 952.5,611.5 957.5,624.0 962.5,612.1 967.5,610.2 972.5,592.7 978.5,592.9 983.5,565.7 988.5,563.6 993.5,558.9 998.5,566.7 1003.5,567.1 1009.5,567.9 1014.5,581.5 1019.5,564.2 1024.5,562.4 1029.5,538.9 1034.5,526.6 1040.5,522.0 1045.5,539.5 1050.5,519.8 1055.5,519.1 1060.5,522.0 1065.5,535.4 1071.5,529.8 1076.5,516.1 1081.5,516.9 1086.5,527.6 1091.5,503.2 1096.5,522.6 1102.5,540.7 1107.5,526.4 1112.5,535.5 1117.5,549.0 1122.5,572.9 1127.5,577.4" fill="none" stroke="#226ef2" stroke-width="2.2" stroke-linejoin="round"/></g>
<path d="M1085.4,498.0 C1087.1,499.0 1091.9,501.8 1095.4,504.2 C1098.9,506.6 1102.6,509.4 1106.2,512.3 C1109.8,515.2 1113.5,518.2 1116.9,521.5 C1120.4,524.8 1123.7,528.4 1126.9,532.3 C1130.1,536.1 1133.2,540.4 1136.2,544.6 C1139.2,548.8 1142.0,553.2 1144.6,557.7 C1147.1,562.2 1149.5,566.6 1151.5,571.5 C1153.5,576.4 1155.4,581.8 1156.9,586.9 C1158.5,592.0 1159.8,597.2 1160.8,602.3 C1161.8,607.4 1162.7,615.1 1163.1,617.7" fill="none" stroke="#f23645" stroke-width="2.5" stroke-dasharray="2.3,5.2" stroke-linecap="round"/>
<path d="M1148.5,607.7 L1163.1,618.3 L1173.1,605.7" fill="none" stroke="#f23645" stroke-width="2.5" stroke-dasharray="2.3,5.2" stroke-linecap="round"/>
<g shape-rendering="crispEdges">
<rect x="1346" y="35" width="1" height="768" fill="#e0e3eb"/>
<rect x="13" y="474" width="1413" height="1" fill="#e0e3eb"/>
<rect x="13" y="768" width="1413" height="1" fill="#e0e3eb"/>
</g>
<rect x="13" y="34" width="1413" height="769" fill="none" stroke="#f0f0f0" stroke-width="2" rx="2"/>
<text x="22.4" y="59.4" font-size="15.8" fill="#131722" textLength="45.9" lengthAdjust="spacingAndGlyphs">Market</text>
<text x="72.9" y="59.4" font-size="15.8" fill="#131722" textLength="26.4" lengthAdjust="spacingAndGlyphs">Cap</text>
<text x="103.2" y="59.4" font-size="15.8" fill="#131722" textLength="34.4" lengthAdjust="spacingAndGlyphs">USDT</text>
<text x="141.7" y="59.4" font-size="15.8" fill="#131722" textLength="78.4" lengthAdjust="spacingAndGlyphs">Dominance,</text>
<text x="250.4" y="59.4" font-size="15.8" fill="#131722" textLength="20.7" lengthAdjust="spacingAndGlyphs">1W</text>
<text x="284.9" y="59.4" font-size="15.8" fill="#131722" textLength="77.3" lengthAdjust="spacingAndGlyphs">CRYPTOCAP</text>
<g fill="none" stroke="#131722"><ellipse cx="229.3" cy="50.9" rx="1.6" ry="2.1" stroke-width="1.15"/><ellipse cx="232.9" cy="56.6" rx="1.6" ry="2.1" stroke-width="1.15"/><line x1="234.6" y1="48.4" x2="227.2" y2="58.7" stroke-width="0.9"/></g>
<g fill="#131722"><circle cx="242.6" cy="53.9" r="1.2"/><circle cx="278.1" cy="53.9" r="1.2"/></g>
<text x="372.4" y="59.4" font-size="15.8" fill="#26a69a" textLength="45.0" lengthAdjust="spacingAndGlyphs">+0.092</text>
<text x="421.4" y="59.4" font-size="15.8" fill="#26a69a" textLength="57.5" lengthAdjust="spacingAndGlyphs">(+1.58%)</text>
<text x="23.1" y="499.7" font-size="14.5" fill="#131722" textLength="41.9" lengthAdjust="spacingAndGlyphs">TOTAL</text>
<text x="78.9" y="499.7" font-size="14.5" fill="#131722" textLength="77.8" lengthAdjust="spacingAndGlyphs">CRYPTOCAP</text>
<circle cx="70.5" cy="495" r="1.15" fill="#131722"/>
<text x="166.2" y="499.7" font-size="14.5" fill="#2f78f0" textLength="42.9" lengthAdjust="spacingAndGlyphs">−51.81</text>
<text x="212.9" y="499.7" font-size="14.5" fill="#2f78f0" textLength="8.9" lengthAdjust="spacingAndGlyphs">B</text>
<text x="226.0" y="499.7" font-size="14.5" fill="#2f78f0" textLength="57.1" lengthAdjust="spacingAndGlyphs">(−1.64%)</text>
<text x="1357.0" y="109.69999999999999" font-size="16" fill="#131722" textLength="46.3" lengthAdjust="spacingAndGlyphs">9.000%</text>
<text x="1357.0" y="160.65" font-size="16" fill="#131722" textLength="46.3" lengthAdjust="spacingAndGlyphs">8.000%</text>
<text x="1357.0" y="211.6" font-size="16" fill="#131722" textLength="46.3" lengthAdjust="spacingAndGlyphs">7.000%</text>
<text x="1357.0" y="313.5" font-size="16" fill="#131722" textLength="46.3" lengthAdjust="spacingAndGlyphs">5.000%</text>
<text x="1357.0" y="364.45000000000005" font-size="16" fill="#131722" textLength="46.3" lengthAdjust="spacingAndGlyphs">4.000%</text>
<text x="1357.0" y="415.4000000000001" font-size="16" fill="#131722" textLength="46.3" lengthAdjust="spacingAndGlyphs">3.000%</text>
<text x="1357.0" y="466.35" font-size="16" fill="#131722" textLength="46.3" lengthAdjust="spacingAndGlyphs">2.000%</text>
<rect x="1351.5" y="39.5" width="69" height="31" rx="6" fill="#fff" stroke="#ececec" stroke-width="1.5"/>
<g fill="none" stroke="#131722"><ellipse cx="1364.4" cy="51.4" rx="1.7" ry="2.2" stroke-width="1.2"/><ellipse cx="1368.6" cy="57.5" rx="1.7" ry="2.2" stroke-width="1.2"/><line x1="1369.6" y1="49.3" x2="1363.2" y2="59.6" stroke-width="0.9"/></g>
<rect x="1351.5" y="480.5" width="69" height="31" rx="6" fill="#fff" stroke="#ececec" stroke-width="1.5"/>
<text x="1362.0" y="501.8" font-size="16" fill="#131722" textLength="26.6" lengthAdjust="spacingAndGlyphs">USD</text>
<text x="1357.0" y="661.4" font-size="16" fill="#131722" textLength="18.6" lengthAdjust="spacingAndGlyphs">2 T</text>
<text x="1357.0" y="732.2" font-size="16" fill="#131722" textLength="18.6" lengthAdjust="spacingAndGlyphs">1 T</text>
<text x="1357.0" y="591.3" font-size="16" fill="#131722" textLength="18.6" lengthAdjust="spacingAndGlyphs">3 T</text>
<text x="1357.0" y="521.3" font-size="16" fill="#131722" textLength="18.6" lengthAdjust="spacingAndGlyphs">4 T</text>
<rect x="1348" y="476" width="76" height="41" fill="#fff"/>
<rect x="1351.5" y="480.5" width="69" height="31" rx="6" fill="#fff" stroke="#ececec" stroke-width="1.5"/>
<text x="1362.0" y="501.8" font-size="16" fill="#131722" textLength="26.6" lengthAdjust="spacingAndGlyphs">USD</text>
<path d="M1347,251 H1408 a2,2 0 0 1 2,2 V288 a2,2 0 0 1 -2,2 H1347 Z" fill="#26a69a"/>
<text x="1358.3" y="267" font-size="15.5" fill="#fff" textLength="45.8" lengthAdjust="spacingAndGlyphs">5.914%</text>
<text x="1357.8" y="284.8" font-size="15.5" fill="#fff" textLength="44.8" lengthAdjust="spacingAndGlyphs" fill-opacity="0.85">4d 16h</text>
<path d="M1347,568 H1401 a2,2 0 0 1 2,2 V587 a2,2 0 0 1 -2,2 H1347 Z" fill="#327af5"/>
<text x="1358.0" y="584" font-size="16" fill="#fff" textLength="39.8" lengthAdjust="spacingAndGlyphs">3.11T</text>
<text x="84.3" y="790.9" font-size="15.1" fill="#131722" font-weight="bold" textLength="34.6" lengthAdjust="spacingAndGlyphs" text-anchor="middle">2022</text>
<text x="218.5" y="790.9" font-size="15.1" fill="#131722" textLength="20.6" lengthAdjust="spacingAndGlyphs" text-anchor="middle">Jul</text>
<text x="352.5" y="790.9" font-size="15.1" fill="#131722" font-weight="bold" textLength="34.6" lengthAdjust="spacingAndGlyphs" text-anchor="middle">2023</text>
<text x="487" y="790.9" font-size="15.1" fill="#131722" textLength="20.6" lengthAdjust="spacingAndGlyphs" text-anchor="middle">Jul</text>
<text x="621.6" y="790.9" font-size="15.1" fill="#131722" font-weight="bold" textLength="34.6" lengthAdjust="spacingAndGlyphs" text-anchor="middle">2024</text>
<text x="755.6" y="790.9" font-size="15.1" fill="#131722" textLength="20.6" lengthAdjust="spacingAndGlyphs" text-anchor="middle">Jul</text>
<text x="895" y="790.9" font-size="15.1" fill="#131722" font-weight="bold" textLength="34.6" lengthAdjust="spacingAndGlyphs" text-anchor="middle">2025</text>
<text x="1029.4" y="790.9" font-size="15.1" fill="#131722" textLength="20.6" lengthAdjust="spacingAndGlyphs" text-anchor="middle">Jul</text>
<text x="1163.3" y="790.9" font-size="15.1" fill="#131722" font-weight="bold" textLength="34.6" lengthAdjust="spacingAndGlyphs" text-anchor="middle">2026</text>
<text x="1298" y="790.9" font-size="15.1" fill="#131722" textLength="20.6" lengthAdjust="spacingAndGlyphs" text-anchor="middle">Jul</text>
<g fill="#111111"><path d="M15.4,830.4 H30.4 V849 H23.1 V837.5 H15.4 Z"/><circle cx="36.7" cy="834.2" r="3.7"/><path d="M44.6,830.4 H52.5 L45.9,849 H37.1 Z"/></g>
<g fill="none" stroke="#111111" stroke-width="3.5"><path d="M62,832.15 H75.6 M68.8,830.4 V849"/><path d="M77.6,849 V841 Q77.6,837.05 83.3,837.05"/><circle cx="90.95" cy="842.1" r="5.05"/><path d="M96,835.3 V849"/><circle cx="107.25" cy="842.1" r="5.05"/><path d="M112.45,830.4 V849"/><path d="M119.1,835.3 V849"/><path d="M125.2,849 V835.3 M125.2,842 A4.45,4.65 0 0 1 134.1,842 V849"/><circle cx="144.6" cy="842.1" r="5.05"/><path d="M150.45,835.3 V848.3 Q150.45,852.75 145.3,852.75 Q142.2,852.75 140.2,850.6"/><path d="M174,835.3 V849"/><path d="M179.85,842.1 H190.25 A5.2,5.2 0 1 0 188.5,846"/></g>
<g fill="#111111"><polygon points="151.9,830.4 156.2,830.4 161.35,844.2 166.5,830.4 170.8,830.4 163.45,849 159.25,849"/><polygon points="192.3,835.3 196.1,835.3 198.6,844.3 201,835.3 204.3,835.3 206.7,844.3 209.2,835.3 213,835.3 208.6,849 204.8,849 202.65,842.3 200.5,849 196.7,849"/><circle cx="119.1" cy="832.0" r="2.05"/><circle cx="174" cy="832.0" r="2.05"/></g></svg>
</body></html>
